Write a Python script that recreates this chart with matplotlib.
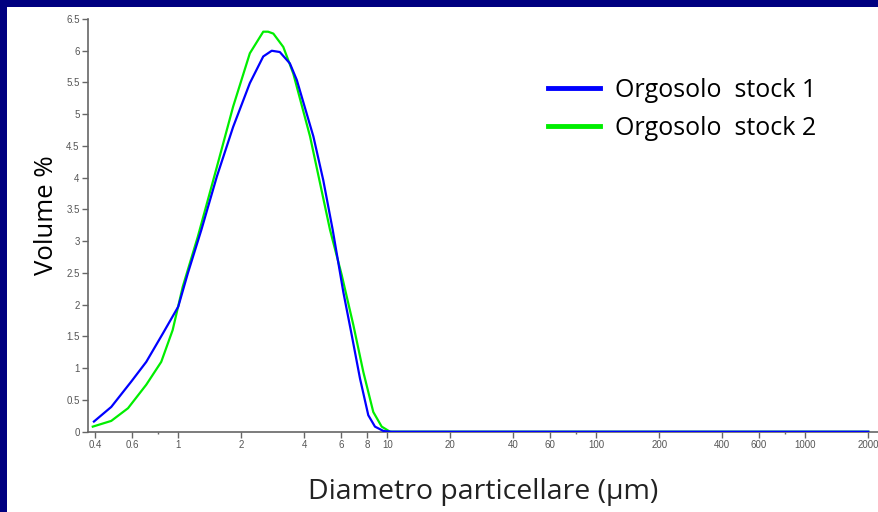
import matplotlib.pyplot as plt
from matplotlib.patches import Rectangle
from matplotlib.ticker import FixedLocator, FixedFormatter, NullFormatter

# series 1 (blue)
diam_1 = [0.395, 0.478, 0.596, 0.703, 0.845, 1.0, 1.11, 1.29, 1.53, 1.83, 2.20,
          2.55, 2.80, 3.06, 3.42, 3.69, 4.43, 4.94, 5.48, 6.16, 6.76, 7.40, 8.11,
          8.73, 9.6, 10.5, 20, 50, 100, 200, 500, 1000, 2000]
vol_1 = [0.16, 0.39, 0.79, 1.10, 1.55, 1.97, 2.49, 3.18, 4.02, 4.80, 5.49,
         5.91, 6.00, 5.98, 5.80, 5.54, 4.65, 3.96, 3.18, 2.20, 1.52, 0.84, 0.26,
         0.08, 0.01, 0, 0, 0, 0, 0, 0, 0, 0]

# series 2 (green)
diam_2 = [0.39, 0.478, 0.575, 0.703, 0.829, 0.94, 1.05, 1.24, 1.53, 1.83, 2.20,
          2.55, 2.69, 2.85, 3.18, 3.55, 4.27, 5.32, 6.05, 6.88, 7.68, 8.57, 9.4,
          10.3, 20, 50, 100, 200, 500, 1000, 2000]
vol_2 = [0.08, 0.17, 0.37, 0.74, 1.10, 1.60, 2.28, 3.07, 4.17, 5.12, 5.96,
         6.30, 6.30, 6.27, 6.06, 5.64, 4.65, 3.18, 2.47, 1.68, 0.94, 0.31, 0.08,
         0.0, 0, 0, 0, 0, 0, 0, 0]

labels = ['Orgosolo  stock 1', 'Orgosolo  stock 2']

x_ticks = [0.4, 0.6, 1, 2, 4, 6, 8, 10, 20, 40, 60, 100, 200, 400, 600, 1000, 2000]
x_tick_labels = ['0.4', '0.6', '1', '2', '4', '6', '8', '10', '20', '40', '60',
                 '100', '200', '400', '600', '1000', '2000']
x_minor = [0.8, 80, 800]
y_ticks = [0, 0.5, 1, 1.5, 2, 2.5, 3, 3.5, 4, 4.5, 5, 5.5, 6, 6.5]
y_tick_labels = ['0', '0.5', '1', '1.5', '2', '2.5', '3', '3.5', '4', '4.5',
                 '5', '5.5', '6', '6.5']

fig = plt.figure(figsize=(8.79, 5.12), dpi=100)
fig.patch.set_facecolor('#000080')
W, H = 879, 512
fig.patches.append(Rectangle((7 / W, 0), 1, 1 - 7 / H, transform=fig.transFigure,
                             facecolor='white', edgecolor='none', zorder=-10))

ax = fig.add_axes([88 / W, 80.3 / H, 1 - 88 / W, 412.7 / H])
ax.set_facecolor('none')
ax.set_zorder(5)

ax.plot(diam_1, vol_1, color='#0000ff', lw=1.6, label=labels[0], zorder=3)
ax.plot(diam_2, vol_2, color='#00ee00', lw=1.6, label=labels[1], zorder=2)

ax.set_xscale('log')
ax.set_xlim(0.37, 2250)
ax.set_ylim(0, 6.5)

ax.xaxis.set_major_locator(FixedLocator(x_ticks))
ax.xaxis.set_major_formatter(FixedFormatter(x_tick_labels))
ax.xaxis.set_minor_locator(FixedLocator(x_minor))
ax.xaxis.set_minor_formatter(NullFormatter())
ax.yaxis.set_major_locator(FixedLocator(y_ticks))
ax.yaxis.set_major_formatter(FixedFormatter(y_tick_labels))

for s in ['top', 'right']:
    ax.spines[s].set_visible(False)
for s in ['left', 'bottom']:
    ax.spines[s].set_color('#666666')
    ax.spines[s].set_linewidth(1.2)

ax.tick_params(axis='both', which='major', direction='out', length=4, width=1,
               colors='#666666', labelsize=7, pad=2)
ax.tick_params(axis='x', which='minor', direction='out', length=1.5, width=1,
               colors='#666666')
for t in ax.get_xticklabels() + ax.get_yticklabels():
    t.set_family('Liberation Sans')
    t.set_color('#555555')

ax.set_ylabel('Volume %', fontsize=18.5, family='Open Sans', color='black')
ax.yaxis.set_label_coords(-0.037, 0.525)
ax.set_xlabel('Diametro particellare (µm)', fontsize=20.5, family='Open Sans',
              color='#222222')
ax.xaxis.set_label_coords(0.5, -0.112)

leg = ax.legend(loc='upper left', bbox_to_anchor=(0.553, 0.911), frameon=False,
                prop={'family': 'Open Sans', 'size': 18}, handlelength=2.08,
                handletextpad=0.6, labelspacing=0.52)
for line in leg.get_lines():
    line.set_linewidth(3.5)

fig.savefig('out.png', dpi=100, facecolor=fig.get_facecolor())
